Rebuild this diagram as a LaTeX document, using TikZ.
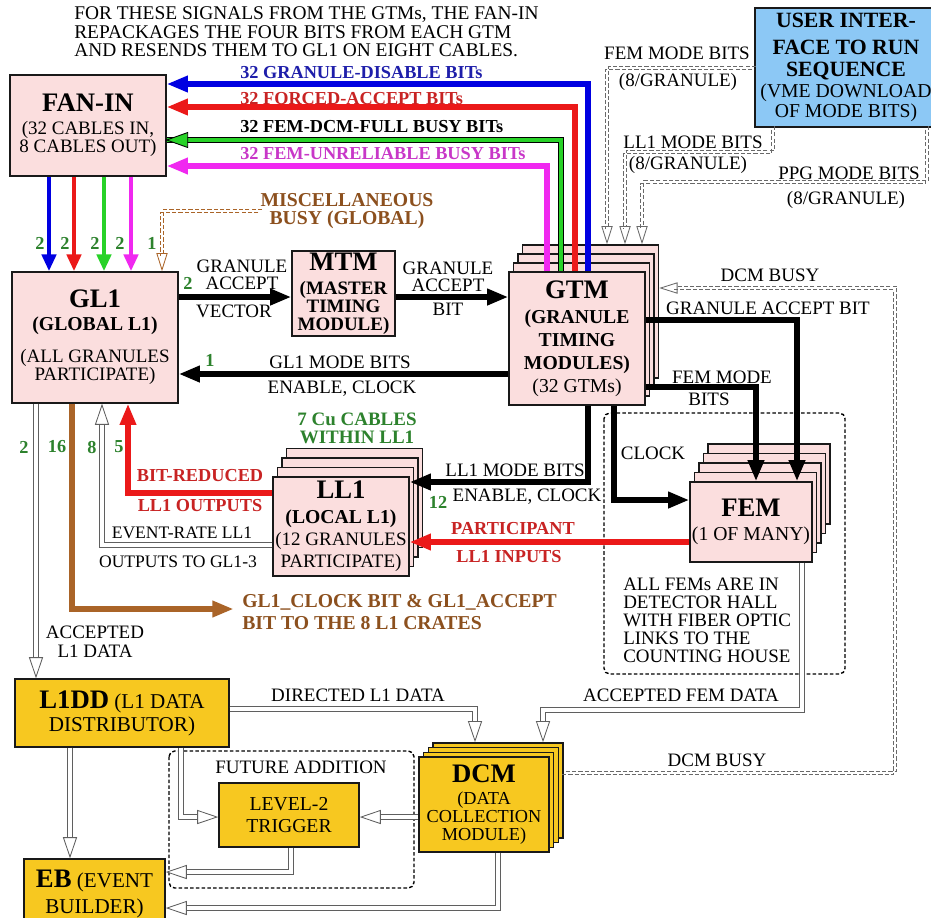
\documentclass[tikz,border=0pt]{standalone}
\usepackage{fontspec}
\setmainfont{Liberation Serif}
\usepackage{xcolor}
\usepackage{tikz}
\usetikzlibrary{arrows.meta,calc}
\definecolor{figline}{RGB}{25,25,25}
\definecolor{figpink}{RGB}{251,222,222}
\definecolor{figgold}{RGB}{247,200,32}
\definecolor{figsky}{RGB}{140,200,245}
\definecolor{figgray}{RGB}{95,95,95}
\definecolor{figdash}{RGB}{105,105,105}
\definecolor{figblue}{RGB}{0,0,225}
\definecolor{figbluet}{RGB}{30,30,170}
\definecolor{figred}{RGB}{235,25,25}
\definecolor{figredt}{RGB}{200,35,35}
\definecolor{figgreen}{RGB}{40,210,40}
\definecolor{figgreent}{RGB}{45,130,45}
\definecolor{figmag}{RGB}{240,40,240}
\definecolor{figmagt}{RGB}{200,55,200}
\definecolor{figbrown}{RGB}{170,100,40}
\definecolor{figbrownt}{RGB}{140,80,30}
\newcommand{\fbig}{\fontsize{19}{20}\selectfont\bfseries}
\newcommand{\fub}{\fontsize{15.5}{14}\selectfont\bfseries}
\newcommand{\freg}{\fontsize{13.5}{15}\selectfont}
\newcommand{\fsml}{\fontsize{12.5}{14}\selectfont}
\newcommand{\fbld}{\fontsize{13}{15}\selectfont\bfseries}
\tikzset{
  box/.style  ={draw=figline, line width=1pt, fill=figpink, inner sep=0pt, align=center},
  ybox/.style ={box, fill=figgold},
  ubox/.style ={box, fill=figsky},
  lab/.style  ={font=\freg, inner sep=0pt, align=center},
  labs/.style ={font=\fsml, inner sep=0pt, align=center},
  labb/.style ={font=\fbld, inner sep=0pt, align=center},
  num/.style  ={font=\fbld, text=figgreent, inner sep=0pt},
  thk/.style  ={draw=black, line width=4pt, -{Triangle[length=15pt,width=11pt]}},
  cpipe/.style={line width=3.6pt, -{Triangle[length=15pt,width=11pt]}},
  cdown/.style={line width=3.4pt, -{Triangle[length=12pt,width=10pt]}},
  cgrn/.style ={draw=black, line width=0.7pt, double=figgreen, double distance=2.4pt},
  dline/.style={draw=figgray, line width=0.6pt, double=white, double distance=2.6pt,
                -{Triangle[length=15pt,width=10pt,fill=white,line width=0.6pt]}},
  ddw/.style  ={draw=white, line width=2.2pt},
  ddl/.style  ={line width=0.6pt, dash pattern=on 3pt off 1.5pt, shorten >=12pt},
  dbox/.style ={draw=black, line width=1pt, dash pattern=on 2.5pt off 1.6pt, rounded corners=4pt},
}
% dashed double connector: colour, path
\newcommand{\ddraw}[2]{%
  \draw[ddw, -{Triangle[length=13pt,width=8pt,fill=white,color=#1,line width=0.6pt]}] #2;
  \draw[ddl, draw=#1, transform canvas={shift={(1.3pt,1.3pt)}}] #2;
  \draw[ddl, draw=#1, transform canvas={shift={(-1.3pt,-1.3pt)}}] #2;}
\begin{document}
\begin{tikzpicture}[x=0.025cm,y=-0.025cm]
  \useasboundingbox (0,0) rectangle (931,917);
  \fill[white] (0,0) rectangle (931,917);
  % dashed group frames
  \draw[dbox] (604,413) rectangle (845,674);
  \draw[dbox] (169,751) rectangle (414,888);
  % upper boxes
  \node[box, minimum width=3.9cm, minimum height=2.525cm, font=\fontsize{13.5}{11}\selectfont] (fanin) at (88,125.5)
    {\fbig FAN-IN\\[5pt](32 CABLES IN,\\8 CABLES OUT)};
  \node[box, minimum width=4.15cm, minimum height=3.275cm, font=\fontsize{13.5}{11.5}\selectfont] (gl1) at (95,337.5)
    {\fbig GL1\\[5pt]\fontsize{14}{11.5}\selectfont\bfseries (GLOBAL L1)\\[9pt](ALL GRANULES\\PARTICIPATE)};
  \node[box, minimum width=2.575cm, minimum height=2.125cm, font=\fontsize{13.5}{12.6}\selectfont\bfseries] (mtm) at (343.5,293.5)
    {\fbig MTM\\[5pt](MASTER\\TIMING\\MODULE)};
  \foreach \st in {3,2,1}
    \node[box, minimum width=3.4cm, minimum height=3.325cm, xshift=0.1125*\st cm, yshift=0.225*\st cm]
      (gtm\st) at (577,338.5) {};
  \node[box, minimum width=3.4cm, minimum height=3.325cm, font=\fontsize{14}{16.4}\selectfont] (gtm) at (577,338.5)
    {\fbig GTM\\[1.4pt]\bfseries (GRANULE\\\bfseries TIMING\\\bfseries MODULES)\\(32 GTMs)};
  \node[ubox, minimum width=4.55cm, minimum height=2.975cm, font=\fontsize{14}{14}\selectfont] (user) at (846,67.5)
    {\fub USER INTER-\\[5pt]\fub FACE TO RUN\\[1.6pt]\fub SEQUENCE\\[1pt](VME DOWNLOAD\\OF MODE BITS)};
  \foreach \st in {3,2,1}
    \node[box, minimum width=3.4cm, minimum height=2.475cm, xshift=0.1125*\st cm, yshift=0.2375*\st cm]
      (ll1\st) at (341,526.5) {};
  \node[box, minimum width=3.4cm, minimum height=2.475cm, font=\fontsize{13.5}{15.6}\selectfont] (ll1) at (341,526.5)
    {\fbig LL1\\[2.2pt]\fontsize{14}{15.6}\selectfont\bfseries (LOCAL L1)\\(12 GRANULES\\PARTICIPATE)};
  \foreach \st in {4,3,2,1}
    \node[box, minimum width=3.05cm, minimum height=2cm, xshift=0.1125*\st cm, yshift=0.2375*\st cm]
      (fem\st) at (751,522) {};
  \node[box, minimum width=3.05cm, minimum height=2cm, font=\fontsize{14}{15}\selectfont] (fem) at (751,522)
    {\fbig FEM\\[2pt](1 OF MANY)};
  % lower boxes
  \node[ybox, minimum width=5.35cm, minimum height=1.7cm, font=\fontsize{15}{16.4}\selectfont] (l1dd) at (122,713)
    {{\fbig L1DD} (L1 DATA\\DISTRIBUTOR)};
  \foreach \st in {3,2,1}
    \node[ybox, minimum width=3.25cm, minimum height=2.375cm, xshift=0.1175*\st cm, yshift=0.1175*\st cm]
      (dcm\st) at (484,804.5) {};
  \node[ybox, minimum width=3.25cm, minimum height=2.375cm, font=\fontsize{13}{12.8}\selectfont] (dcm) at (484,804.5)
    {\fbig DCM\\[2.8pt](DATA\\COLLECTION\\MODULE)};
  \node[ybox, minimum width=3.5cm, minimum height=1.6cm, font=\fontsize{14}{15.6}\selectfont] (lvl2) at (289,815)
    {LEVEL-2\\TRIGGER};
  \node[ybox, minimum width=3.525cm, minimum height=1.75cm, font=\fontsize{15}{18.5}\selectfont] (eb) at (94.5,894)
    {{\fbig EB} (EVENT\\BUILDER)};
  % labels
  \node[lab, align=left, anchor=west, font=\fontsize{13.8}{13.2}\selectfont] (note) at (74,32)
    {FOR THESE SIGNALS FROM THE GTMs, THE FAN-IN\\REPACKAGES THE FOUR BITS FROM EACH GTM\\AND RESENDS THEM TO GL1 ON EIGHT CABLES.};
  \node[labb, anchor=west, text=figbluet] (ldis) at (240,73) {32 GRANULE-DISABLE BITs};
  \node[labb, anchor=west, text=figredt] (lfor) at (240,99) {32 FORCED-ACCEPT BITs};
  \node[labb, anchor=west] (lful) at (240,127) {32 FEM-DCM-FULL BUSY BITs};
  \node[labb, anchor=west, text=figmagt] (lunr) at (240,154) {32 FEM-UNRELIABLE BUSY BITs};
  \node[num] (n2a) at (40,243) {2};
  \node[num] (n2b) at (65,243) {2};
  \node[num] (n2c) at (95,243) {2};
  \node[num] (n2d) at (120,243) {2};
  \node[num] (n1a) at (152,243) {1};
  \node[labb, text=figbrownt, font=\fontsize{14}{13}\selectfont\bfseries] (lmisc) at (347,211) {MISCELLANEOUS\\BUSY (GLOBAL)};
  \node[num] (n2e) at (188,283) {2};
  \node[lab, font=\fontsize{13.5}{12}\selectfont] (lgav) at (242,275) {GRANULE\\ACCEPT};
  \node[lab] (lvec) at (234,311) {VECTOR};
  \node[lab, font=\fontsize{13.5}{12}\selectfont] (lgab) at (448,277) {GRANULE\\ACCEPT};
  \node[lab] (lbit) at (448,309) {BIT};
  \node[num] (n1b) at (210,360) {1};
  \node[lab] (lmode) at (340,362) {GL1 MODE BITS};
  \node[lab] (lenc) at (342,389) {ENABLE, CLOCK};
  \node[lab] (lfemm) at (677,53) {FEM MODE BITS};
  \node[lab] (lfemg) at (678,82) {(8/GRANULE)};
  \node[lab] (lll1m) at (693,142) {LL1 MODE BITS};
  \node[lab] (lll1g) at (688,165) {(8/GRANULE)};
  \node[lab] (lppgm) at (849,173) {PPG MODE BITS};
  \node[lab] (lppgg) at (846,200) {(8/GRANULE)};
  \node[lab] (ldcmb) at (770,275) {DCM BUSY};
  \node[lab] (lgabt) at (768,308) {GRANULE ACCEPT BIT};
  \node[lab] (lfm1) at (722,377) {FEM MODE};
  \node[lab] (lfm2) at (709,399) {BITS};
  \node[lab] (lclk) at (653,453) {CLOCK};
  \node[labb, text=figgreent, font=\fontsize{13.5}{13}\selectfont\bfseries] (lcu) at (357,428) {7 Cu CABLES\\WITHIN LL1};
  \node[lab] (lll1b) at (515,470) {LL1 MODE BITS};
  \node[num] (n12) at (438,502) {12};
  \node[lab] (lenc2) at (527,497) {ENABLE, CLOCK};
  \node[labb, text=figredt] (lpar1) at (513,529) {PARTICIPANT};
  \node[labb, text=figredt] (lpar2) at (509,557) {LL1 INPUTS};
  \node[labb, text=figredt] (lbr1) at (200,476) {BIT-REDUCED};
  \node[labb, text=figredt] (lbr2) at (200,506) {LL1 OUTPUTS};
  \node[labs] (lev1) at (182,533) {EVENT-RATE LL1};
  \node[labs] (lev2) at (178,562) {OUTPUTS TO GL1-3};
  \node[num] (n2f) at (24,447) {2};
  \node[num] (n16) at (57,447) {16};
  \node[num] (n8) at (92,447) {8};
  \node[num] (n5) at (119,447) {5};
  \node[labb, anchor=west, align=left, text=figbrownt, font=\fontsize{14}{16}\selectfont\bfseries] (lcrates) at (242,612)
    {GL1\_CLOCK BIT \& GL1\_ACCEPT\\BIT TO THE 8 L1 CRATES};
  \node[lab, font=\fontsize{13.5}{13.5}\selectfont] (lacc) at (95,642) {ACCEPTED\\L1 DATA};
  \node[lab, align=left, anchor=west, font=\fontsize{13.5}{12.8}\selectfont] (ldet) at (623,620)
    {ALL FEMs ARE IN\\DETECTOR HALL\\WITH FIBER OPTIC\\LINKS TO THE\\COUNTING HOUSE};
  \node[lab] (ldir) at (358,695) {DIRECTED L1 DATA};
  \node[lab] (lafd) at (681,695) {ACCEPTED FEM DATA};
  \node[lab] (ldcmb2) at (717,760) {DCM BUSY};
  \node[lab] (lfut) at (301,767) {FUTURE ADDITION};
  % busy and mask bits to the fan-in
  \draw[cpipe, draw=figmag] (gtm.north -| 547,0) |- (fanin.east |- 0,166);
  \draw[cgrn] (gtm.north -| 561,0) |- (fanin.east |- 0,140);
  \draw[cpipe, draw=figred] (gtm.north -| 575,0) |- (fanin.east |- 0,107);
  \draw[cpipe, draw=figblue] (gtm.north -| 588,0) |- (fanin.east |- 0,84);
  \fill[figgreen, draw=black, line width=0.6pt] (fanin.east |- 0,140) -- ++(21,-7.5) -- ++(0,15) -- cycle;
  \draw[cdown, draw=figblue] (fanin.south -| 49,0) -- (gl1.north -| 49,0);
  \draw[cdown, draw=figred] (fanin.south -| 74,0) -- (gl1.north -| 74,0);
  \draw[cdown, draw=figgreen] (fanin.south -| 104,0) -- (gl1.north -| 104,0);
  \draw[cdown, draw=figmag] (fanin.south -| 131,0) -- (gl1.north -| 131,0);
  \ddraw{figbrown}{(lmisc.west) -| (gl1.north -| 162,0)}
  % timing chain
  \draw[thk] (gl1.east |- 0,297) -- (mtm.west |- 0,297);
  \draw[thk] (mtm.east |- 0,297) -- (gtm.west |- 0,297);
  \draw[thk] (gtm.west |- 0,374) -- (gl1.east |- 0,374);
  \draw[thk] (gtm.east |- 0,320) -| (fem.north -| 797,0);
  \draw[thk] (gtm.east |- 0,387) -| (fem.north -| 756,0);
  \draw[thk] (gtm.south -| 588,0) |- (ll1.east |- 0,482);
  \draw[thk] (gtm.south -| 614,0) |- (fem.west |- 0,500);
  % mode bits from the run sequence
  \ddraw{figdash}{(user.west |- 0,68) -| (gtm3.north -| 607,0)}
  \ddraw{figdash}{(user.south -| 773,0) -- (773,152) -| (gtm3.north -| 625,0)}
  \ddraw{figdash}{(user.south -| 927,0) -- (927,182) -| (gtm3.north -| 642,0)}
  \ddraw{figdash}{(dcm3.east |- 0,773) -- (895,773) |- (gtm3.east |- 0,288)}
  % level-1 paths
  \draw[cpipe, draw=figred] (fem.west |- 0,542) -- (ll1.east |- 0,542);
  \draw[cpipe, draw=figred] (ll1.west |- 0,493) -| (gl1.south -| 128,0);
  \draw[dline] (ll1.west |- 0,545) -| (gl1.south -| 102,0);
  \draw[cpipe, draw=figbrown, shorten >=6pt] (gl1.south -| 72,0) |- (lcrates.west |- 0,609);
  % data paths
  \draw[dline] (gl1.south -| 36,0) -- (l1dd.north -| 36,0);
  \draw[dline] (l1dd.east |- 0,709) -| (dcm3.north -| 475,0);
  \draw[dline] (fem.south -| 802,0) -- (802,710) -| (dcm3.north -| 543,0);
  \draw[dline] (l1dd.south -| 181,0) |- (lvl2.west |- 0,817);
  \draw[dline] (dcm.west |- 0,817) -- (lvl2.east |- 0,817);
  \draw[dline] (l1dd.south -| 70,0) -- (eb.north -| 70,0);
  \draw[dline] (lvl2.south -| 291,0) |- (eb.east |- 0,872);
  \draw[dline] (dcm.south -| 498,0) |- (eb.east |- 0,908);
\end{tikzpicture}
\end{document}
